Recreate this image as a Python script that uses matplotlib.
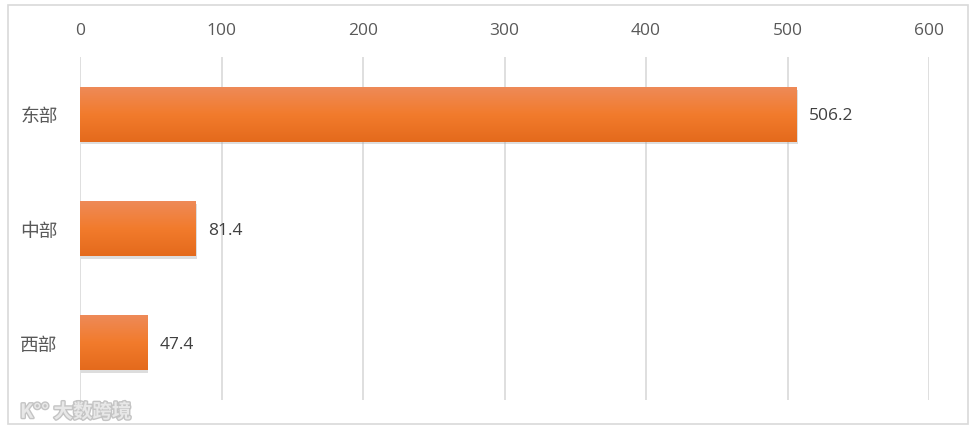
import numpy as np
import matplotlib

matplotlib.use("Agg")
import matplotlib.pyplot as plt  # noqa: E402
import matplotlib.patheffects as pe  # noqa: E402
from matplotlib.patches import Rectangle  # noqa: E402
from matplotlib.colors import LinearSegmentedColormap  # noqa: E402

plt.rcParams["font.family"] = ["Noto Sans CJK SC", "DejaVu Sans"]

regions = ["东部", "中部", "西部"]
values = [506.2, 81.4, 47.4]
x_ticks = [0, 100, 200, 300, 400, 500, 600]

W, H = 975, 432
fig = plt.figure(figsize=(W / 100, H / 100), dpi=100)
ax = fig.add_axes([80 / W, (H - 400) / H, (929 - 80) / W, (400 - 57) / H])

# outer frame
fig.patches.append(Rectangle((8 / W, 8 / H), 960 / W, 419 / H, transform=fig.transFigure,
                             fill=False, edgecolor="#d9d9d9", lw=1.2))

ypos = np.arange(len(regions))
bar_h = 0.48
bars = ax.barh(ypos, values, height=bar_h, color="#f07a30", zorder=3,
               path_effects=[pe.SimplePatchShadow(offset=(1, -2), shadow_rgbFace="#a0a0a0",
                                                  alpha=0.35), pe.Normal()])

grad = LinearSegmentedColormap.from_list("bar", ["#ee8a58", "#f27b2c", "#e46a1c"])
g = np.linspace(0, 1, 256).reshape(-1, 1)
for b in bars:
    x0, y0 = b.get_x(), b.get_y()
    im = ax.imshow(g, cmap=grad, aspect="auto", zorder=4,
                   extent=(x0, x0 + b.get_width(), y0 + b.get_height(), y0))
    im.set_clip_path(b)

for y, v in zip(ypos, values):
    ax.text(v + 9, y + 0.02, f"{v:.1f}", va="center", ha="left", fontsize=12.5,
            color="#404040", family=["Open Sans", "DejaVu Sans"])

ax.set_xlim(0, 600)
ax.set_ylim(2.5, -0.5)
ax.set_xticks(x_ticks)
ax.xaxis.tick_top()
ax.tick_params(axis="x", length=0, pad=13, labelsize=12.5, labelcolor="#595959")
for lbl in ax.get_xticklabels():
    lbl.set_family(["Open Sans", "DejaVu Sans"])
ax.set_yticks(ypos)
ax.set_yticklabels(regions, fontsize=13.5, color="#595959")
ax.tick_params(axis="y", length=0, pad=16)
ax.grid(axis="x", color="#d9d9d9", lw=1.2, zorder=0)
for s in ax.spines.values():
    s.set_visible(False)

# watermark
fig.text(20 / W, (H - 412) / H, "K°° 大数跨境", fontsize=14, color="#e8e8e8", va="center",
         fontweight="bold",
         path_effects=[pe.withStroke(linewidth=2, foreground="#c4c4c4")])

fig.savefig("out.png", dpi=100)
